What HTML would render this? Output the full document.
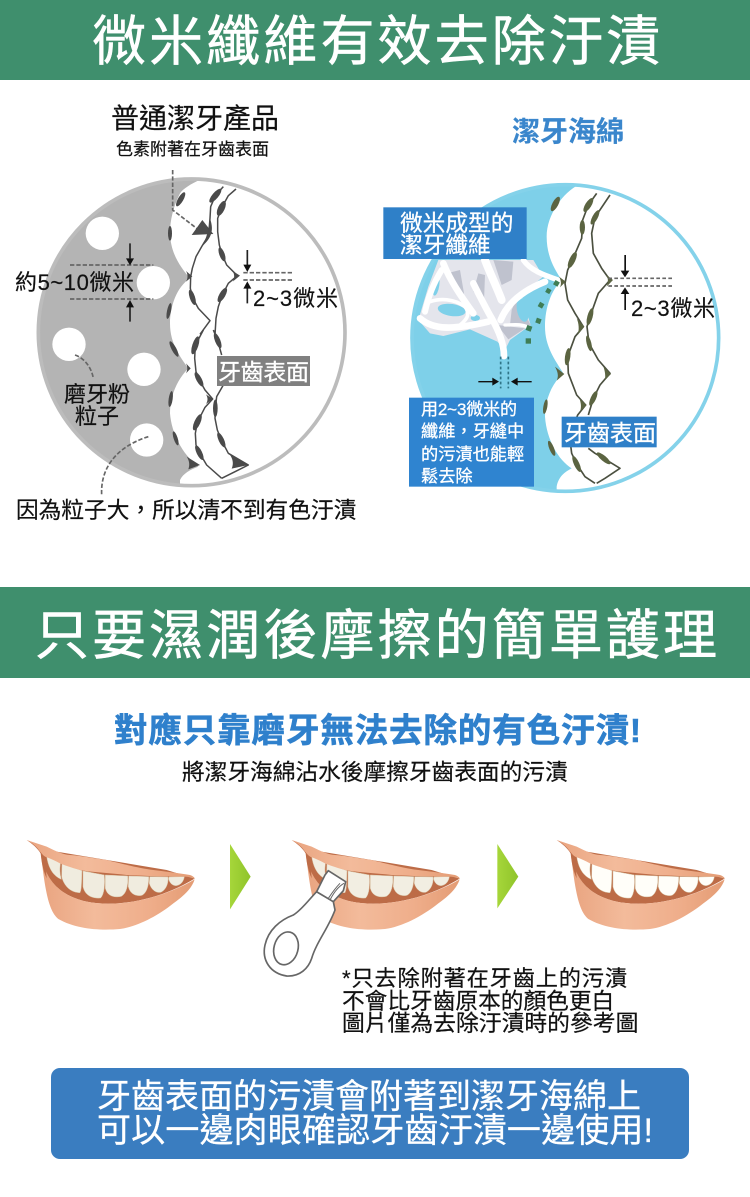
<!DOCTYPE html>
<html lang="zh-Hant"><head><meta charset="utf-8"><title>微米纖維</title>
<style>
html,body{margin:0;padding:0;background:#fff;width:750px;height:1197px;overflow:hidden}
svg{display:block}
text{font-family:"Liberation Sans","Noto Sans CJK TC",sans-serif;fill:#111;stroke:#111;stroke-width:.2}
text.w{fill:#fff;stroke:#fff;stroke-width:.3}
polyline{fill:none;stroke-linejoin:round}
</style></head><body>
<svg width="750" height="1197" viewBox="0 0 750 1197" xmlns="http://www.w3.org/2000/svg">
<defs>
<linearGradient id="lip" x1="0" x2="1" y1="0" y2="0"><stop offset="0" stop-color="#e9a480"/><stop offset=".35" stop-color="#f3bb9b"/><stop offset=".7" stop-color="#efae8b"/><stop offset="1" stop-color="#e49c74"/></linearGradient>
<linearGradient id="gr" x1="0" x2="1" y1="0" y2="0"><stop offset="0" stop-color="#a6d63a"/><stop offset="1" stop-color="#8fc42a"/></linearGradient>
<clipPath id="c1"><circle cx="575" cy="727" r="460"/></clipPath>
<clipPath id="c2"><circle cx="571" cy="744" r="460"/></clipPath>
<g id="mouth">
<path d="M122,95C130,170 170,225 260,245C340,262 470,245 584,176L500,150L140,90Z" fill="#bd6c47"/>
<g fill="currentColor" stroke="#d9c9ac" stroke-width="1.5">
<path d="M140,108L182,128C178,145 180,165 184,178C160,168 145,145 140,108Z"/>
<path d="M186,130L246,152C244,180 246,205 240,218C212,218 192,198 185,170Z"/>
<path d="M249,153L313,165C315,195 313,222 302,234C275,236 255,226 249,200Z"/>
<path d="M316,165L383,168C385,195 380,220 364,229C342,234 322,228 316,205Z"/>
<path d="M386,168L446,170C447,195 441,218 426,226C405,230 390,220 385,200Z"/>
<path d="M449,170L504,171C506,190 498,210 482,217C465,220 452,205 448,190Z"/>
<path d="M507,171L553,170C551,185 541,196 528,197C515,197 507,185 506,176Z"/>
</g>
<path d="M122,95C132,170 170,225 260,245C340,262 470,245 584,178C575,205 555,225 520,250C470,290 410,320 360,327C300,332 230,328 175,297C145,272 135,210 122,95Z" fill="url(#lip)"/>
<path d="M80,60L140,80C170,95 190,104 210,105C250,108 280,115 320,120C360,130 420,145 460,150C500,155 540,160 570,165C578,168 584,172 584,176C575,172 560,170 550,170C500,170 440,168 380,165C340,160 290,158 250,152C220,145 200,138 180,130C165,122 150,115 135,110C125,105 120,100 118,92C108,80 95,70 80,60Z" fill="url(#lip)"/>
<path d="M80,60C98,70 110,80 118,92C125,100 128,105 135,110L140,175C128,150 124,120 122,100C112,84 98,72 80,60Z" fill="#bd6c47"/>
</g>
</defs>

<rect x="0" y="0" width="750" height="80" fill="#3f8f6d"/>
<rect x="0" y="587" width="750" height="91" fill="#3f8f6d"/>
<text class="w" x="92" y="60" font-size="54" textLength="568" lengthAdjust="spacing" style="stroke-width:.6">微米纖維有效去除汙漬</text>
<text class="w" x="35" y="654" font-size="54" textLength="682" lengthAdjust="spacing" style="stroke-width:.6">只要濕潤後摩擦的簡單護理</text>

<!-- LEFT DIAGRAM -->
<g transform="translate(0,90) scale(.33333)">
<circle cx="575" cy="727" r="460" fill="#fff"/>
<g clip-path="url(#c1)">
<path d="M615,262C575,280 550,295 540,310C520,350 510,390 510,430C512,490 540,530 570,565C530,590 510,650 510,700C510,760 540,800 565,835C530,870 510,920 510,970C515,1030 545,1090 595,1130C570,1140 550,1150 540,1170L540,1250L0,1250L0,200L615,200Z" fill="#b4b4b4"/>
</g>
<circle cx="575" cy="727" r="460" fill="none" stroke="#bcbcbc" stroke-width="11"/>
<g fill="#fff"><circle cx="307" cy="430" r="50"/><circle cx="460" cy="578" r="50"/><circle cx="207" cy="763" r="50"/><circle cx="432" cy="838" r="50"/><circle cx="440" cy="1050" r="50"/></g>
<g fill="none" stroke="#666" stroke-width="5" stroke-dasharray="13 6">
<path d="M210,525H460M210,627H460M730,548H880M730,570H880"/>
<path d="M518,240V360L590,415"/>
<path d="M225,795C255,805 275,835 280,865"/>
<path d="M445,1040C380,1060 300,1110 305,1215"/>
</g>
<path d="M607,390L575,435L640,432Z" fill="#4c4c4c"/>
<g stroke="#222" stroke-width="5" fill="#111">
<path d="M390,460V505M390,695V650M742,480V525M742,640V595" fill="none"/>
<path d="M378,505H402L390,526Z" stroke="none"/>
<path d="M378,652H402L390,630Z" stroke="none"/>
<path d="M730,524H754L742,546Z" stroke="none"/>
<path d="M730,596H754L742,574Z" stroke="none"/>
</g>
</g>
<!-- left teeth: upper piece -->
<g transform="translate(160,175) scale(.33333)" fill="#4a4a4a">
<g stroke="#4a4a4a" stroke-width="4.5">
<polyline points="190,35 166,62 152,95 150,130 146,180 125,215 108,245 97,280 92,305 91,340 97,367 115,400 150,437 120,478"/>
<polyline points="228,42 205,62 184,100 173,130 173,170 178,210 186,238 200,270 232,302 205,325 187,360 175,395 168,430 165,480"/>
</g>
<ellipse cx="62" cy="73" rx="8" ry="24" transform="rotate(30 62 73)"/>
<ellipse cx="30" cy="175" rx="6" ry="22"/>
<path d="M78,288L97,304L78,320C84,310 84,298 78,288Z"/>
<ellipse cx="27" cy="408" rx="6" ry="24" transform="rotate(12 27 408)"/>
<ellipse cx="166" cy="62" rx="9" ry="26" transform="rotate(40 166 62)"/>
<path d="M150,130C160,160 160,185 125,215C140,190 146,165 150,130Z"/>
<ellipse cx="97" cy="367" rx="8" ry="24" transform="rotate(-18 97 367)"/>
<ellipse cx="184" cy="100" rx="10" ry="24" transform="rotate(25 184 100)"/>
<ellipse cx="186" cy="238" rx="8" ry="22" transform="rotate(-20 186 238)"/>
<path d="M218,288L240,302L218,320C224,310 224,298 218,288Z"/>
<ellipse cx="187" cy="360" rx="9" ry="24" transform="rotate(30 187 360)"/>
</g>
<!-- left teeth: lower piece -->
<g transform="translate(160,330) scale(.33333)" fill="#4a4a4a">
<g stroke="#4a4a4a" stroke-width="4.5">
<polyline points="130,0 106,46 104,85 108,125 117,148 135,180 158,207 135,232 112,277 106,310 108,345 118,368 140,405 185,445"/>
<polyline points="160,0 173,32 185,75"/>
<polyline points="190,165 170,200 166,235 165,265 172,300 184,330 205,370 265,405 225,425 185,445"/>
</g>
<ellipse cx="42" cy="57" rx="7" ry="26" transform="rotate(-28 42 57)"/>
<path d="M78,100L92,115L78,130C83,120 83,110 78,100Z"/>
<ellipse cx="32" cy="207" rx="6" ry="24" transform="rotate(8 32 207)"/>
<ellipse cx="47" cy="325" rx="6" ry="22" transform="rotate(-18 47 325)"/>
<path d="M80,380L120,405L85,418C90,405 88,392 80,380Z"/>
<ellipse cx="106" cy="46" rx="9" ry="28" transform="rotate(18 106 46)"/>
<ellipse cx="117" cy="148" rx="8" ry="24" transform="rotate(-28 117 148)"/>
<path d="M138,193L158,207L138,222C144,212 144,203 138,193Z"/>
<ellipse cx="112" cy="277" rx="9" ry="26" transform="rotate(24 112 277)"/>
<ellipse cx="118" cy="368" rx="8" ry="24" transform="rotate(-26 118 368)"/>
<ellipse cx="173" cy="32" rx="8" ry="24" transform="rotate(-22 173 32)"/>
<ellipse cx="166" cy="235" rx="7" ry="26"/>
<ellipse cx="184" cy="330" rx="8" ry="24" transform="rotate(-25 184 330)"/>
<path d="M208,372L265,405L215,416C222,400 218,385 208,372Z"/>
</g>
<rect x="217" y="356" width="93" height="30" fill="#808080"/>
<text x="111" y="128" font-size="28">普通潔牙產品</text>
<text x="116" y="155" font-size="17">色素附著在牙齒表面</text>
<text x="15" y="290" font-size="22" textLength="119" lengthAdjust="spacing">約5~10微米</text>
<text x="253" y="306" font-size="22" textLength="85" lengthAdjust="spacing">2~3微米</text>
<text class="w" x="218" y="380" font-size="23" textLength="91" lengthAdjust="spacing">牙齒表面</text>
<text x="64" y="402" font-size="22">磨牙粉</text>
<text x="75" y="424" font-size="22">粒子</text>
<text x="16" y="518" font-size="22.7">因為粒子大&#xFF0C;所以清不到有色汙漬</text>

<!-- RIGHT DIAGRAM -->
<g transform="translate(375,90) scale(.33333)">
<circle cx="571" cy="744" r="460" fill="#fff"/>
<g clip-path="url(#c2)">
<path d="M620,280C570,300 515,370 515,440C515,500 540,540 560,570C530,600 510,650 510,710C510,770 540,810 565,850C530,880 510,930 510,980C515,1050 550,1110 590,1135C570,1145 550,1160 545,1190L545,1250L0,1250L0,200L620,200Z" fill="#7ed0e9"/>
</g>
<circle cx="571" cy="744" r="460" fill="none" stroke="#84d2ea" stroke-width="11"/>
</g>
<!-- fibers -->
<g transform="translate(410,250) scale(.33333)">
<path d="M25,210L55,110L85,30L370,30L400,80L350,120L335,140L362,225L300,270L285,300L262,275L180,238L100,258L60,250Z" fill="#e4e5ec"/>
<g fill="#bfc2ce">
<path d="M110,70L150,60L162,130L150,150Z"/>
<path d="M205,70L225,75L222,155L190,125Z"/>
<path d="M250,30L310,35L305,90L275,105Z"/>
<path d="M305,180L320,145L362,225L300,225Z"/>
<path d="M262,225L345,235L295,268Z"/>
</g>
<g fill="#7ed0e9">
<ellipse cx="78" cy="105" rx="10" ry="32" transform="rotate(8 78 105)"/>
<ellipse cx="125" cy="180" rx="42" ry="18" transform="rotate(8 125 180)"/>
<ellipse cx="338" cy="180" rx="17" ry="36" transform="rotate(-12 338 180)"/>
<ellipse cx="196" cy="204" rx="14" ry="9"/>
</g>
<g fill="none" stroke="#fff" stroke-linecap="round" stroke-linejoin="round">
<path d="M282,318C282,280 265,240 245,205C225,170 205,130 190,100" stroke-width="20"/>
<path d="M272,210C290,165 330,125 405,95" stroke-width="20"/>
<path d="M225,30C240,70 260,110 275,150" stroke-width="24"/>
<path d="M100,40C120,90 150,135 190,190" stroke-width="20"/>
<path d="M95,60C70,100 55,140 45,185" stroke-width="18"/>
<path d="M30,205C70,240 130,240 235,215" stroke-width="20"/>
<path d="M60,155C90,145 130,145 165,170C180,190 175,205 150,225" stroke-width="11"/>
<path d="M340,30C360,60 400,75 445,90" stroke-width="16"/>
<path d="M285,225C310,225 330,220 355,232" stroke-width="10"/>
</g>
</g>
<g transform="translate(375,90) scale(.33333)">
<g stroke="#4b5040" stroke-width="5">
<polyline points="665,310 640,345 623,390 622,412 620,445 592,510 578,540 570,580 578,630 600,670 625,710 600,740 578,800 580,850 605,915 632,945 608,975 597,1005 585,1050 590,1090 605,1122 630,1160 660,1180"/>
<polyline points="705,315 660,382 650,430 655,490 680,535 705,570 670,610 645,680 636,710 642,760 670,810 705,850 675,885 655,925 640,975"/>
<polyline points="640,1075 660,1090 686,1105 735,1135 690,1165 665,1180"/>
</g>
<g fill="#5b6441">
<ellipse cx="541" cy="342" rx="9" ry="24" transform="rotate(28 541 342)"/>
<path d="M552,560L572,575L555,592C560,582 558,570 552,560Z"/>
<path d="M540,830L568,852L545,872C552,858 548,845 540,830Z"/>
<ellipse cx="511" cy="950" rx="6" ry="22" transform="rotate(10 511 950)"/>
<ellipse cx="530" cy="1075" rx="7" ry="24" transform="rotate(-22 530 1075)"/>
<ellipse cx="640" cy="345" rx="9" ry="24" transform="rotate(32 640 345)"/>
<ellipse cx="622" cy="412" rx="8" ry="22"/>
<ellipse cx="592" cy="510" rx="9" ry="26" transform="rotate(25 592 510)"/>
<path d="M605,685L628,710L608,735C613,720 612,700 605,685Z"/>
<ellipse cx="578" cy="800" rx="8" ry="26" transform="rotate(8 578 800)"/>
<path d="M613,925L635,945L615,965C620,952 618,938 613,925Z"/>
<ellipse cx="597" cy="1005" rx="9" ry="26" transform="rotate(18 597 1005)"/>
<ellipse cx="605" cy="1122" rx="8" ry="26" transform="rotate(-25 605 1122)"/>
<ellipse cx="660" cy="382" rx="8" ry="24" transform="rotate(28 660 382)"/>
<path d="M695,555L714,570L695,590C700,578 700,566 695,555Z"/>
<ellipse cx="645" cy="680" rx="8" ry="26" transform="rotate(15 645 680)"/>
<ellipse cx="642" cy="760" rx="7" ry="24" transform="rotate(-14 642 760)"/>
<path d="M685,830L708,852L690,870C692,857 690,843 685,830Z"/>
<ellipse cx="655" cy="925" rx="8" ry="24" transform="rotate(25 655 925)"/>
<ellipse cx="686" cy="1105" rx="8" ry="26" transform="rotate(-50 686 1105)"/>
</g>
<g fill="#3f7d55">
<rect x="537" y="573" width="15" height="15" transform="rotate(30 545 580)"/>
<rect x="513" y="596" width="14" height="14" transform="rotate(30 520 603)"/>
<rect x="491" y="638" width="15" height="15" transform="rotate(30 498 645)"/>
<rect x="483" y="685" width="15" height="15" transform="rotate(20 490 692)"/>
<rect x="454" y="707" width="16" height="16" transform="rotate(20 462 715)"/>
<rect x="452" y="745" width="16" height="16"/>
</g>
<g fill="none" stroke="#2f7488" stroke-width="5" stroke-dasharray="8 7">
<path d="M377,800V895M400,800V895"/>
</g>
<g fill="none" stroke="#666" stroke-width="5" stroke-dasharray="11 7">
<path d="M700,565H895M700,588H895"/>
</g>
<g fill="#111" stroke="none">
<path d="M748,495H753V542H763L750,562L737,542H748Z"/>
<path d="M748,660H753V612H763L750,592L737,612H748Z"/>
<path d="M310,873H352V863L372,875L352,887V877H310Z"/>
<path d="M470,873H428V863L408,875L428,887V877H470Z"/>
</g>
<rect x="25" y="352" width="430" height="155" fill="#2f80c8"/>
<rect x="102" y="923" width="375" height="267" fill="#2f84d0"/>
<rect x="560" y="980" width="285" height="92" fill="#2f80c8"/>
</g>
<text x="512" y="141" font-size="28" font-weight="700" style="fill:#3a86cc;stroke:#3a86cc">潔牙海綿</text>
<text class="w" x="400" y="231" font-size="22.7">微米成型的</text>
<text class="w" x="400" y="253" font-size="22.7">潔牙纖維</text>
<text class="w" x="421" y="415" font-size="17" textLength="96" lengthAdjust="spacing">用2~3微米的</text>
<text class="w" x="421" y="437" font-size="17.2">纖維&#xFF0C;牙縫中</text>
<text class="w" x="421" y="460" font-size="17.2">的污漬也能輕</text>
<text class="w" x="421" y="482" font-size="17.2">鬆去除</text>
<text class="w" x="564" y="441" font-size="23" textLength="92" lengthAdjust="spacing">牙齒表面</text>
<text x="631" y="316" font-size="22" textLength="84" lengthAdjust="spacing">2~3微米</text>

<!-- SECTION 2 -->
<text x="114" y="742" font-size="33.5" font-weight="700" style="fill:#2f80cc;stroke:#2f80cc;stroke-width:.6" textLength="527" lengthAdjust="spacing">對應只靠磨牙無法去除的有色汙漬!</text>
<text x="182" y="780" font-size="22.7">將潔牙海綿沾水後摩擦牙齒表面的污漬</text>

<g transform="translate(0,820) scale(.33333)">
<use href="#mouth" color="#f0ecdf"/>
<use href="#mouth" x="795" color="#f2eee2"/>
<use href="#mouth" x="1590" color="#fffef9"/>
<path d="M690,72L752,170L690,268Z" fill="url(#gr)"/>
<path d="M1492,72L1555,170L1492,265Z" fill="url(#gr)"/>
<g fill="#fff" stroke="#666" stroke-width="5" stroke-linejoin="round">
<path d="M950,215C930,235 905,270 880,285C840,300 805,330 795,375C785,420 810,460 860,468C900,470 925,445 935,415C950,365 985,325 1005,270L1000,245C985,235 965,225 950,215Z"/>
<path d="M985,152L1037,185L1030,212L1000,245L950,215L975,165Z"/>
<ellipse cx="858" cy="385" rx="36" ry="50" transform="rotate(15 858 385)"/>
<path d="M1032,190C1015,200 1000,220 990,240" fill="none" stroke-width="3"/>
<path d="M1020,190C1005,205 995,220 985,235" fill="none" stroke-width="3"/>
</g>
</g>
<text x="342" y="986" font-size="22.2" textLength="285" lengthAdjust="spacing">*只去除附著在牙齒上的污漬</text>
<text x="342" y="1009" font-size="22.7">不會比牙齒原本的顏色更白</text>
<text x="342" y="1031" font-size="22.8">圖片僅為去除汙漬時的參考圖</text>

<rect x="51" y="1068" width="638" height="91" rx="9" fill="#3a7dc0"/>
<text class="w" x="97" y="1108" font-size="34">牙齒表面的污漬會附著到潔牙海綿上</text>
<text class="w" x="97" y="1142" font-size="34" textLength="556" lengthAdjust="spacing">可以一邊肉眼確認牙齒汙漬一邊使用!</text>
</svg>
</body></html>
